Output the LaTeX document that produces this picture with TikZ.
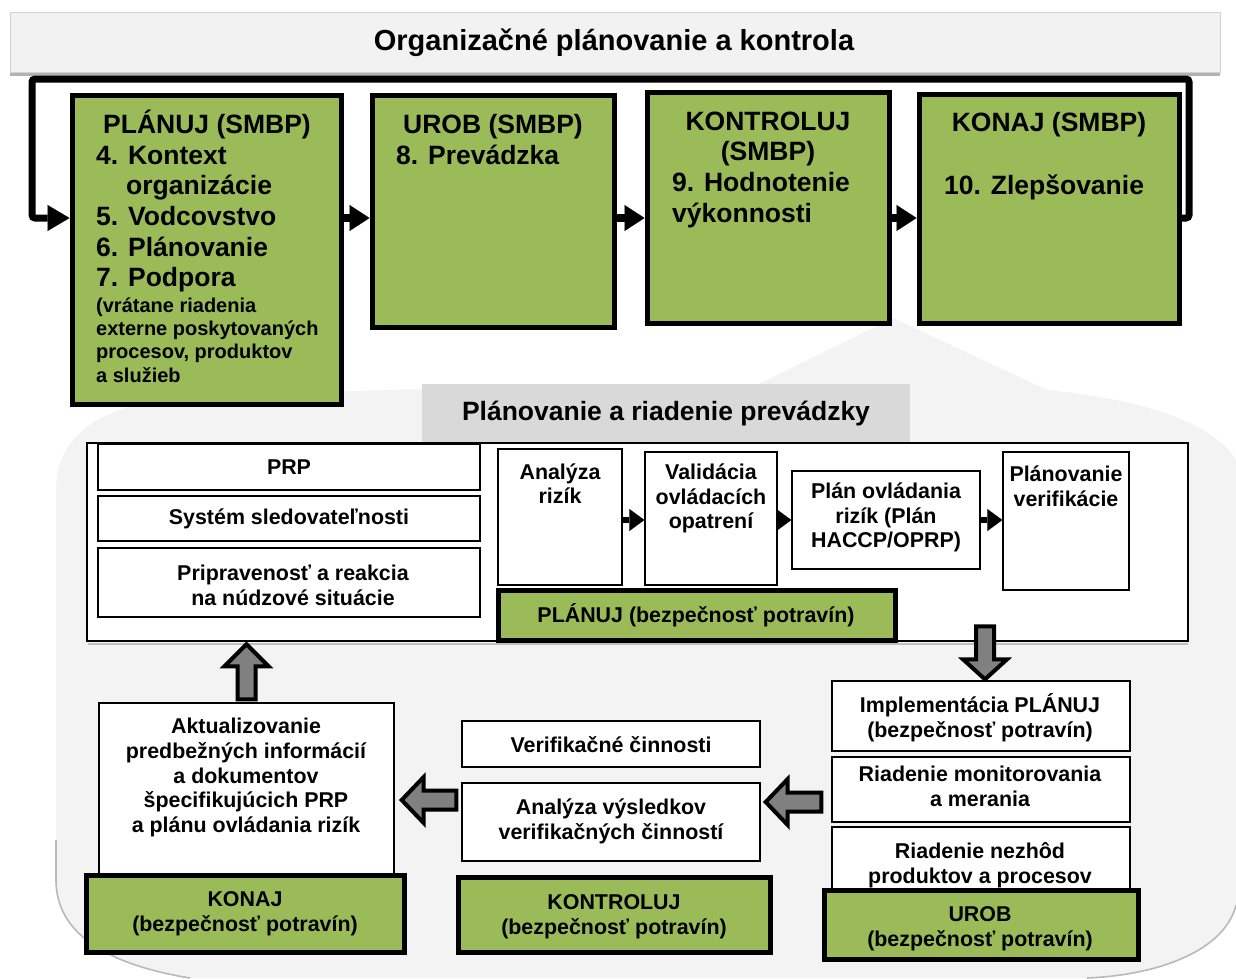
\documentclass[tikz,border=0pt]{standalone}
\usepackage{fontspec}
\setmainfont{Liberation Sans}
\usetikzlibrary{arrows.meta,calc}
\definecolor{grn}{HTML}{9BBB59}
\definecolor{band}{HTML}{F2F2F2}
\definecolor{blobc}{HTML}{F2F3F2}
\definecolor{hdr}{HTML}{D9D9D9}
\definecolor{arrg}{HTML}{808080}
\newcommand\fT{\fontsize{29}{34}\selectfont\bfseries}
\newcommand\fA{\fontsize{26.5}{31}\selectfont\bfseries}
\newcommand\fB{\fontsize{20}{23.3}\selectfont\bfseries}
\newcommand\fC{\fontsize{21.4}{24.6}\selectfont\bfseries}
\newcommand\mkbox[6]{\node[#2, minimum width={#5-#3}, minimum height={#6-#4}] (#1) at ({(#3+#5)/2},{(#4+#6)/2}) {};}
\newcommand\barrow[5]{%
 \draw[barr] ($(#1)!#3!90:(#2)$) -- ($(#2)!#5!(#1)!#3!-90:(#1)$) -- ($(#2)!#5!(#1)!#4!-90:(#1)$) -- (#2) -- ($(#2)!#5!(#1)!#4!90:(#1)$) -- ($(#2)!#5!(#1)!#3!90:(#1)$) -- ($(#1)!#3!-90:(#2)$) -- cycle;}
\tikzset{
 gbox/.style={draw=black, fill=grn, line width=5pt, inner sep=0pt},
 wbox/.style={draw=black, fill=white, line width=1.4pt, inner sep=0pt},
 hbox/.style={fill=hdr, inner sep=0pt},
 tx/.style={inner sep=0pt, align=center, font=\fC},
 txm/.style={tx, yshift=-2.5pt},
 tl/.style={inner sep=0pt, anchor=base west, font=\fA},
 ts/.style={inner sep=0pt, anchor=base west, font=\fB},
 tc/.style={inner sep=0pt, anchor=base, font=\fA},
 blk/.style={line width=8pt, -{Triangle[length=20pt,width=26pt,line width=0.1pt]}},
 blks/.style={line width=6pt, -{Triangle[length=15pt,width=22pt,line width=0.1pt]}},
 loopl/.style={line width=7pt, rounded corners=3pt, -{Triangle[length=22pt,width=26pt,line width=0.1pt]}},
 barr/.style={draw=black, fill=arrg, line width=4pt, line join=miter},
 shadowl/.style={draw=gray!55, line width=1.6pt},
}
\begin{document}
\begin{tikzpicture}[x=1pt,y=-1pt]
\useasboundingbox (0,0) rectangle (1236,978);
% background blob
\fill[blobc] (893,318) -- (1047,390) .. controls (1150,400) and (1215,425) .. (1236,460) -- (1236,905) .. controls (1225,950) and (1160,975) .. (1087,978) -- (190,978) .. controls (110,965) and (56,935) .. (56,880) -- (56,490) .. controls (56,430) and (110,400) .. (200,396) -- (420,389) -- (755,386) -- cycle;
\draw[shadowl] (1236,905) .. controls (1225,950) and (1160,975) .. (1087,978);
\draw[shadowl] (190,978) .. controls (110,965) and (56,935) .. (56,880) -- (56,840);
% title band
\node[fill=band, draw=gray!35, line width=0.6pt, inner sep=0pt, minimum width=1210, minimum height=60] (tband) at (615,42) {};
\draw[gray!60, line width=3pt] (10,74) -- (1220,74);
\node[font=\fT, inner sep=0pt] (ttl) at (614,43) {Organizačné plánovanie a kontrola};
% top boxes
\mkbox{plan}{gbox}{72}{95}{341}{404}
\mkbox{urob}{gbox}{372}{95}{614}{327}
\mkbox{kontr}{gbox}{647}{92}{889}{323}
\mkbox{konaj}{gbox}{919}{94}{1179}{323}
\coordinate (arow) at (0,218);
\coordinate (lpR) at (1189,79);
\coordinate (lpL) at (32,79);
\draw[blk] (plan.east |- arow) -- (urob.west |- arow);
\draw[blk] (urob.east |- arow) -- (kontr.west |- arow);
\draw[blk] (kontr.east |- arow) -- (konaj.west |- arow);
\draw[loopl] (konaj.east |- arow) -| (lpR) -- (lpL) |- (plan.west |- arow);
% top texts
\node[tc] (plh) at (207,133) {PLÁNUJ (SMBP)};
\node[tl] (pl1) at (96,164) {4. Kontext};
\node[tl] (pl2) at (126,194.7) {organizácie};
\node[tl] (pl3) at (96,225.4) {5. Vodcovstvo};
\node[tl] (pl4) at (96,256.1) {6. Plánovanie};
\node[tl] (pl5) at (96,286.8) {7. Podpora};
\node[ts] (ps1) at (96,312) {(vrátane riadenia};
\node[ts] (ps2) at (96,335.3) {externe poskytovaných};
\node[ts] (ps3) at (96,358.6) {procesov, produktov};
\node[ts] (ps4) at (96,382) {a služieb};
\node[tc] (urh) at (493,133) {UROB (SMBP)};
\node[tl] (ur1) at (396,164) {8. Prevádzka};
\node[tc] (koh1) at (768,130) {KONTROLUJ};
\node[tc] (koh2) at (768,160.5) {(SMBP)};
\node[tl] (ko1) at (672,191) {9. Hodnotenie};
\node[tl] (ko2) at (672,222) {výkonnosti};
\node[tc] (knh) at (1049,131) {KONAJ (SMBP)};
\node[tl] (kn1) at (944,194) {10. Zlepšovanie};
% lower frame
\mkbox{outer}{wbox}{87}{443}{1188}{641}
\draw[gray!50, line width=2pt] (88,643.5) -- (1188,643.5);
\mkbox{hdrb}{hbox}{422}{384}{910}{442}
\node[tc] (hdrt) at (666,420) {Plánovanie a riadenie prevádzky};
\mkbox{prp}{wbox}{98}{444}{480}{490}
\mkbox{sys}{wbox}{98}{496}{480}{541}
\mkbox{prip}{wbox}{98}{548}{480}{617}
\mkbox{anal}{wbox}{498}{449}{622}{585}
\mkbox{valid}{wbox}{645}{452}{777}{585}
\mkbox{plano}{wbox}{792}{471}{980}{569}
\mkbox{verif}{wbox}{1003}{452}{1129}{590}
\mkbox{planG}{gbox}{498}{590}{895}{640}
\coordinate (arow2) at (0,520);
\draw[blks] (anal.east |- arow2) -- (valid.west |- arow2);
\draw[blks] (valid.east |- arow2) -- (plano.west |- arow2);
\draw[blks] (plano.east |- arow2) -- (verif.west |- arow2);
\node[tx] (prpt) at (289,467) {PRP};
\node[tx] (syst) at (289,518.5) {Systém sledovateľnosti};
\node[txm] (pript) at (293,583) {Pripravenosť a reakcia\\na núdzové situácie};
\node[txm] (analt) at (560,481) {Analýza\\rizík};
\node[txm] (validt) at (711,496) {Validácia\\ovládacích\\opatrení};
\node[txm] (planot) at (886,515) {Plán ovládania\\rizík (Plán\\HACCP/OPRP)};
\node[txm] (verift) at (1066,484) {Plánovanie\\verifikácie};
\node[tx] (planGt) at (696,615) {PLÁNUJ (bezpečnosť potravín)};
% right column
\mkbox{impl}{wbox}{832}{681}{1130}{751}
\mkbox{monit}{wbox}{832}{757}{1130}{822}
\mkbox{nezh}{wbox}{832}{827}{1130}{890}
\mkbox{urobG}{gbox}{824}{890}{1138}{959}
\node[txm] (implt) at (980,715) {Implementácia PLÁNUJ\\(bezpečnosť potravín)};
\node[txm] (monitt) at (980,784) {Riadenie monitorovania\\a merania};
\node[txm] (nezht) at (980,863) {Riadenie nezhôd\\produktov a procesov};
\node[txm] (urobGt) at (980,926) {UROB\\(bezpečnosť potravín)};
% middle column
\mkbox{verc}{wbox}{462}{721}{760}{767}
\mkbox{analv}{wbox}{462}{783}{760}{861}
\mkbox{kontrG}{gbox}{458}{877}{770}{952}
\node[tx] (verct) at (611,745) {Verifikačné činnosti};
\node[txm] (analvt) at (611,819) {Analýza výsledkov\\verifikačných činností};
\node[txm] (kontrGt) at (614,914) {KONTROLUJ\\(bezpečnosť potravín)};
% left column
\mkbox{aktual}{wbox}{99}{703}{394}{874}
\mkbox{konajG}{gbox}{86}{875}{404}{952}
\node[txm] (aktualt) at (246,775) {Aktualizovanie\\predbežných informácií\\a dokumentov\\špecifikujúcich PRP\\a plánu ovládania rizík};
\node[txm] (konajGt) at (245,911) {KONAJ\\(bezpečnosť potravín)};
% block arrows
\coordinate (dA) at ($(impl.north)+(4,-54)$);
\coordinate (dB) at ($(impl.north)+(4,-1)$);
\barrow{dA}{dB}{9pt}{22pt}{20pt}
\coordinate (uA) at ($(aktual.north)+(0,-3)$);
\coordinate (uB) at ($(aktual.north)+(0,-58)$);
\barrow{uA}{uB}{9pt}{22pt}{22pt}
\coordinate (lar) at (0,800);
\coordinate (l1A) at ($(analv.west |- lar)+(-5,0)$);
\coordinate (l1B) at ($(aktual.east |- lar)+(7,0)$);
\barrow{l1A}{l1B}{9.5pt}{23pt}{22pt}
\coordinate (lar2) at (0,802);
\coordinate (l2A) at ($(monit.west |- lar2)+(-10,0)$);
\coordinate (l2B) at ($(analv.east |- lar2)+(5,0)$);
\barrow{l2A}{l2B}{9.5pt}{23pt}{22pt}
\end{tikzpicture}
\end{document}
